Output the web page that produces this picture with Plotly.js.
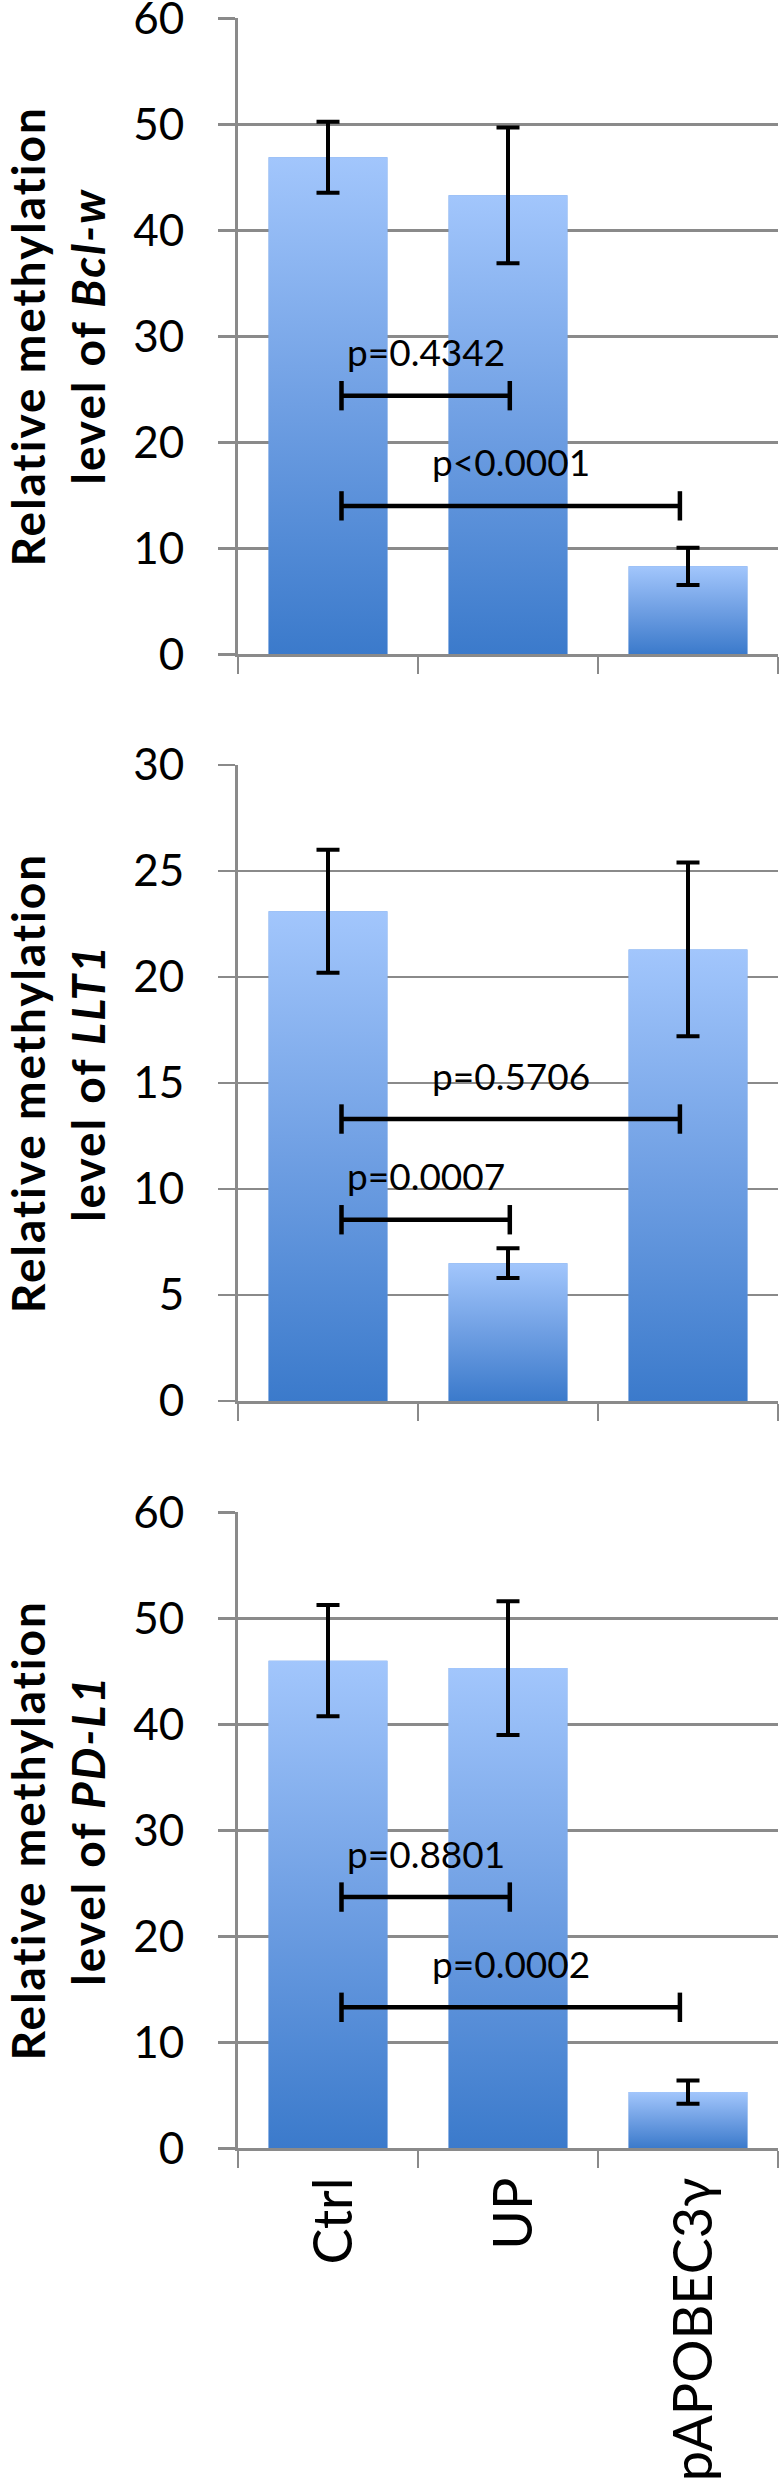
<!DOCTYPE html>
<html><head><meta charset="utf-8">
<script src="https://cdn.plot.ly/plotly-3.0.1.min.js"></script>
<style>html,body{margin:0;padding:0;background:#fff}#chart{width:779px;height:2481px}
.g-ytitle text,.g-y2title text,.g-y3title text{letter-spacing:2px}</style>
</head><body><div id="chart"></div>
<script>
// ---- data ----
const categories = ['Ctrl', 'UP', 'pAPOBEC3γ'];
const genes = ['Bcl-w', 'LLT1', 'PD-L1'];
const bclwMean = [46.9, 43.3, 8.3];
const bclwErr = [3.35, 6.4, 1.75];
const llt1Mean = [23.1, 6.5, 21.3];
const llt1Err = [2.9, 0.7, 4.1];
const pdl1Mean = [46.0, 45.3, 5.3];
const pdl1Err = [5.25, 6.3, 1.1];
const yMax = [60, 30, 60];
const yStep = [10, 5, 10];
// significance comparisons (category indices), bracket heights and p-values
const bclwPairs = [[0, 1], [0, 2]];
const bclwPairY = [24.4, 14.0];
const bclwP = ['p=0.4342', 'p<0.0001'];
const llt1Pairs = [[0, 1], [0, 2]];
const llt1PairY = [8.55, 13.3];
const llt1P = ['p=0.0007', 'p=0.5706'];
const pdl1Pairs = [[0, 1], [0, 2]];
const pdl1PairY = [23.7, 13.3];
const pdl1P = ['p=0.8801', 'p=0.0002'];

// ---- styling ----
const FONT = 'Lato, "Open Sans", sans-serif';
const GRID = '#8a8a8a';
const BAR_HALF = 0.33;
const LABEL_SHIFT = 0.035;
const gradScale = [[0, '#3b7acb'], [0.5, '#6f9fe3'], [1, '#a2c6fc']];
const domains = [[0.73627, 0.99262], [0.43531, 0.69166], [0.13410, 0.39045]];

const panels = [
  {mean: bclwMean, err: bclwErr, pairs: bclwPairs, pairY: bclwPairY, p: bclwP},
  {mean: llt1Mean, err: llt1Err, pairs: llt1Pairs, pairY: llt1PairY, p: llt1P},
  {mean: pdl1Mean, err: pdl1Err, pairs: pdl1Pairs, pairY: pdl1PairY, p: pdl1P}
];
const idx = categories.map((c, i) => i);
const traces = [];
const annotations = [];
const layout = {
  width: 779, height: 2481, margin: {l: 238, r: 1, t: 0, b: 0},
  paper_bgcolor: '#fff', plot_bgcolor: '#fff', showlegend: false,
  font: {family: FONT, color: '#000'}, annotations: annotations
};

panels.forEach((pn, k) => {
  const xa = k === 0 ? 'x' : 'x' + (k + 1);
  const ya = k === 0 ? 'y' : 'y' + (k + 1);
  // bars
  traces.push({type: 'bar', x: idx, y: pn.mean, width: BAR_HALF * 2, xaxis: xa, yaxis: ya,
    marker: {color: '#6d9de2', line: {width: 0}}, hoverinfo: 'skip'});
  // vertical gradient fill over each bar
  pn.mean.forEach((m, i) => {
    traces.push({type: 'scatter', mode: 'lines', xaxis: xa, yaxis: ya,
      x: [i - BAR_HALF, i + BAR_HALF, i + BAR_HALF, i - BAR_HALF, i - BAR_HALF],
      y: [0, 0, m, m, 0], fill: 'toself', fillcolor: '#6d9de2',
      fillgradient: {type: 'vertical', colorscale: gradScale},
      line: {width: 0, color: 'rgba(0,0,0,0)'}, hoverinfo: 'skip'});
  });
  // error bars
  traces.push({type: 'scatter', mode: 'markers', x: idx, y: pn.mean, xaxis: xa, yaxis: ya,
    marker: {size: 1, color: 'rgba(0,0,0,0)'},
    error_y: {type: 'data', array: pn.err, visible: true, color: '#000', thickness: 4, width: 11.5},
    hoverinfo: 'skip'});
  // significance brackets + p-values
  pn.pairs.forEach((pr, j) => {
    const span = pr[1] - pr[0];
    const x0 = pr[0] + 0.075;
    const x1 = pr[1] + (span === 1 ? 0.01 : -0.045);
    traces.push({type: 'scatter', mode: 'lines+markers', xaxis: xa, yaxis: ya,
      x: [x0, x1], y: [pn.pairY[j], pn.pairY[j]], line: {color: '#000', width: 4.5},
      marker: {symbol: 'line-ns', size: 21, color: '#000', line: {color: '#000', width: 4.5}},
      hoverinfo: 'skip'});
    annotations.push({xref: xa, yref: ya, x: (x0 + x1) / 2, y: pn.pairY[j], yshift: 44,
      xanchor: 'center', yanchor: 'middle', showarrow: false, text: pn.p[j],
      font: {family: FONT, size: 37, color: '#000'}});
  });

  const xKey = k === 0 ? 'xaxis' : 'xaxis' + (k + 1);
  const yKey = k === 0 ? 'yaxis' : 'yaxis' + (k + 1);
  layout[xKey] = {
    anchor: ya, domain: [0, 1], range: [-0.5, 2.5], type: 'linear',
    tickmode: 'array', tickvals: idx.map(i => i + LABEL_SHIFT),
    ticktext: k === 2 ? categories : categories.map(() => ''),
    ticks: '', showticklabels: k === 2, tickangle: -90,
    tickfont: {family: FONT, size: 54, color: '#000'}, ticklabelstandoff: 5,
    ticklabeloverflow: 'allow',
    showgrid: false, zeroline: false, showline: true, linecolor: GRID, linewidth: 2.7,
    minor: {tickmode: 'array', tickvals: [-0.5, 0.5, 1.5, 2.5], ticks: 'outside', ticklen: 17,
      tickwidth: 2.7, tickcolor: GRID, showgrid: false},
    automargin: false, fixedrange: true
  };
  layout[yKey] = {
    anchor: xa, domain: domains[k], range: [0, yMax[k]], tickmode: 'linear', tick0: 0, dtick: yStep[k],
    ticks: 'outside', ticklen: 17, tickwidth: 2.7, tickcolor: GRID,
    tickfont: {family: FONT, size: 44, color: '#000'}, ticklabelstandoff: 25,
    ticklabeloverflow: 'allow',
    showgrid: true, gridcolor: GRID, gridwidth: 2.7, zeroline: false,
    showline: true, linecolor: GRID, linewidth: 3, automargin: 'right',
    title: {text: 'Relative methylation<br>level of <i>' + genes[k] + '</i>', standoff: 23,
      font: {family: FONT, size: 46, weight: 'bold', color: '#000'}},
    fixedrange: true
  };
});

Plotly.newPlot('chart', traces, layout, {staticPlot: true, displayModeBar: false});
</script>
</body></html>
